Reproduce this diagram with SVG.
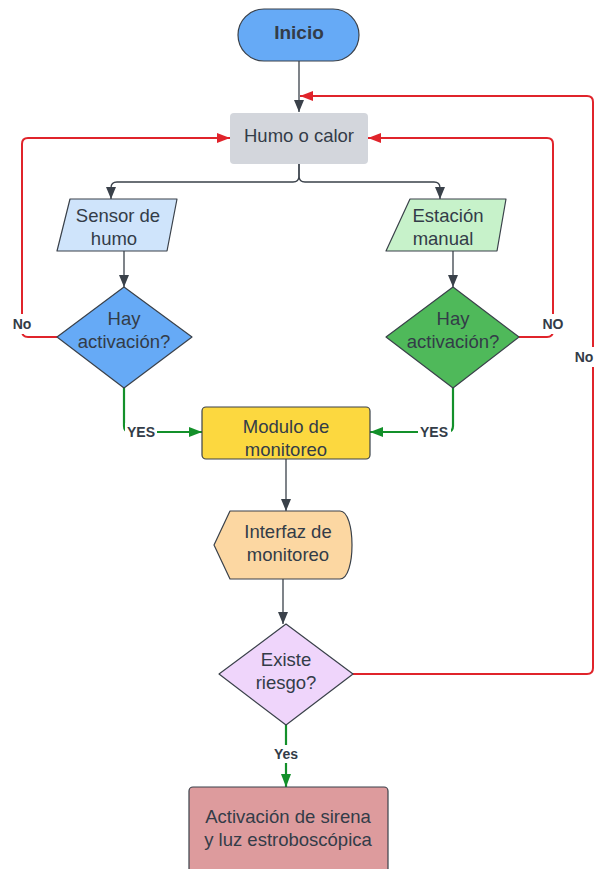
<svg xmlns="http://www.w3.org/2000/svg" width="595" height="869" viewBox="0 0 595 869">
<style>
.node{stroke:#3a414a;stroke-width:1.2;stroke-linejoin:round}
.t{font-family:"Liberation Sans",Arial,sans-serif;font-size:18.5px;fill:#333c48;text-anchor:middle}
.tb{font-family:"Liberation Sans",Arial,sans-serif;font-size:19px;font-weight:bold;fill:#333c48;text-anchor:middle}
.lbl{font-family:"Liberation Sans",Arial,sans-serif;font-size:14px;font-weight:bold;fill:#333c48;text-anchor:middle}
.dk{fill:none;stroke:#3a414a;stroke-width:1.3}
.rd{fill:none;stroke:#e0242b;stroke-width:2}
.gr{fill:none;stroke:#13902a;stroke-width:2.2}
.bg{fill:#ffffff}
</style>
<defs>
<marker id="aDk" markerUnits="userSpaceOnUse" markerWidth="12" markerHeight="12" viewBox="0 0 12 12" refX="12" refY="6" orient="auto"><path d="M0,1 L12,6 L0,11 Z" fill="#3a414a"/></marker>
<marker id="aRd" markerUnits="userSpaceOnUse" markerWidth="13" markerHeight="12" viewBox="0 0 13 12" refX="13" refY="6" orient="auto"><path d="M0,1 L13,6 L0,11 Z" fill="#e0242b"/></marker>
<marker id="aGr" markerUnits="userSpaceOnUse" markerWidth="13" markerHeight="12" viewBox="0 0 13 12" refX="13" refY="6" orient="auto"><path d="M0,1 L13,6 L0,11 Z" fill="#13902a"/></marker>
</defs>
<rect width="595" height="869" fill="#ffffff"/>

<g id="connectors">
  <path class="dk" d="M299,61 V112" marker-end="url(#aDk)"/>
  <path class="dk" d="M299,164 V176 Q299,182 293,182 H117 Q111,182 111,188 V199" marker-end="url(#aDk)"/>
  <path class="dk" d="M299,164 V176 Q299,182 305,182 H434 Q440,182 440,188 V199" marker-end="url(#aDk)"/>
  <path class="dk" d="M124,251 V287" marker-end="url(#aDk)"/>
  <path class="dk" d="M453,251 V287" marker-end="url(#aDk)"/>
  <path class="dk" d="M286,459 V511" marker-end="url(#aDk)"/>
  <path class="dk" d="M283,579 V624" marker-end="url(#aDk)"/>
  <path class="rd" d="M57,337 H28 Q22,337 22,331 V144 Q22,138 28,138 H230" marker-end="url(#aRd)"/>
  <path class="rd" d="M519,337 H547 Q553,337 553,331 V144 Q553,138 547,138 H368" marker-end="url(#aRd)"/>
  <path class="rd" d="M353,674 H587 Q593,674 593,668 V102 Q593,96 587,96 H300" marker-end="url(#aRd)"/>
  <path class="gr" d="M124,388 V426 Q124,432 130,432 H202" marker-end="url(#aGr)"/>
  <path class="gr" d="M453,388 V426 Q453,432 447,432 H370" marker-end="url(#aGr)"/>
  <path class="gr" d="M286,725 V787" marker-end="url(#aGr)"/>
  <rect class="bg" x="10" y="314" width="25" height="20"/>
  <text class="lbl" x="22" y="329">No</text>
  <rect class="bg" x="538" y="314" width="30" height="20"/>
  <text class="lbl" x="553" y="329">NO</text>
  <rect class="bg" x="573" y="347" width="22" height="20"/>
  <text class="lbl" x="584" y="362">No</text>
  <rect class="bg" x="125" y="423" width="32" height="18"/>
  <text class="lbl" x="141" y="437">YES</text>
  <rect class="bg" x="418" y="423" width="33" height="18"/>
  <text class="lbl" x="434" y="437">YES</text>
  <rect class="bg" x="272" y="745" width="28" height="18"/>
  <text class="lbl" x="286" y="759">Yes</text>
</g>

<g id="inicio">
  <rect class="node" x="238" y="9" width="121" height="52" rx="26" fill="#66aaf6"/>
  <text class="tb" x="299" y="39">Inicio</text>
</g>
<g id="humo-calor">
  <rect x="230" y="113" width="138" height="51" rx="4" fill="#d3d6dc"/>
  <text class="t" x="299" y="142">Humo o calor</text>
</g>
<g id="sensor-humo">
  <path class="node" d="M70,199 H177 L167,251 H57 Z" fill="#cfe4fb"/>
  <text class="t" x="118" y="222">Sensor de</text>
  <text class="t" x="114" y="245">humo</text>
</g>
<g id="estacion-manual">
  <path class="node" d="M410,199 H506 L497,251 H386 Z" fill="#c7f2ca"/>
  <text class="t" x="448" y="222">Estación</text>
  <text class="t" x="443" y="245">manual</text>
</g>
<g id="hay-activacion-1">
  <path class="node" d="M124,287 L192,337 L124,388 L57,337 Z" fill="#66aaf6"/>
  <text class="t" x="124" y="325">Hay</text>
  <text class="t" x="124" y="348">activación?</text>
</g>
<g id="hay-activacion-2">
  <path class="node" d="M453,287 L519,337 L453,388 L386,337 Z" fill="#4fb95a"/>
  <text class="t" x="453" y="325">Hay</text>
  <text class="t" x="453" y="348">activación?</text>
</g>
<g id="modulo-monitoreo">
  <rect class="node" x="202" y="407" width="168" height="52" rx="4" fill="#fcd83f"/>
  <text class="t" x="286" y="433">Modulo de</text>
  <text class="t" x="286" y="456">monitoreo</text>
</g>
<g id="interfaz-monitoreo">
  <path class="node" d="M230,511 H340 C348,511 352,528 352,545 C352,562 348,579 340,579 H230 L214,545 Z" fill="#fcd7a2"/>
  <text class="t" x="288" y="538">Interfaz de</text>
  <text class="t" x="288" y="561">monitoreo</text>
</g>
<g id="existe-riesgo">
  <path class="node" d="M286,624 L353,674 L286,725 L219,674 Z" fill="#efd5fb"/>
  <text class="t" x="286" y="666">Existe</text>
  <text class="t" x="286" y="689">riesgo?</text>
</g>
<g id="activacion-sirena">
  <rect class="node" x="189" y="787" width="199" height="90" rx="4" fill="#dd9b9d"/>
  <text class="t" x="288" y="823">Activación de sirena</text>
  <text class="t" x="288" y="846">y luz estroboscópica</text>
</g>
</svg>
